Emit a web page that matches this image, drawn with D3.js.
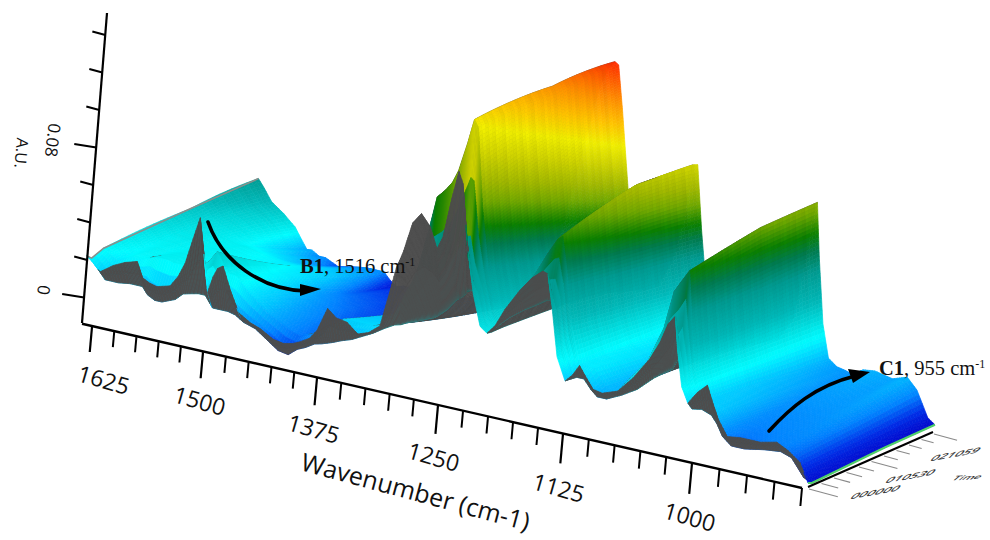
<!DOCTYPE html>
<html><head><meta charset="utf-8">
<script src="https://cdn.jsdelivr.net/npm/d3@7/dist/d3.min.js"></script>
<style>html,body{margin:0;padding:0;background:#fff}svg{display:block}</style>
</head><body><svg id="c" width="990" height="540"></svg>
<script>
// wavenumber grid, cm-1
const wavenumbers=[1630,1616,1601,1588,1574,1568,1560,1552,1537,1528,1520,1511,1503,1499,1495,1489,1484,1478,1470,1461,1448,1437,1423,1412,1402,1393,1383,1375,1364,1355,1344,1333,1322,1310,1300,1293,1286,1276,1267,1258,1251,1245,1236,1229,1225,1221,1215,1208,1201,1193,1183,1168,1156,1145,1140,1136,1131,1123,1116,1109,1102,1096,1087,1072,1057,1041,1031,1023,1016,1014,1010,1004,995,986,981,976,968,956,938,923,913,902,895];
// absorbance (mAU) at successive times
const spectrumStart=[23,16,21,24,26,18,16,15,17,23,31,45,57,38,18,27,32,34,22,11,7,5,1,0,1,3,6,11,24,20,19,14,16,21,40,54,63,80,86,80,69,76,98,113,107,77,50,33,30,35,45,57,65,70,69,52,26,14,18,24,18,13,12,15,24,36,46,57,62,44,25,17,24,29,20,12,4,5,5,7,4,-1,-11];
const spectrumEarly=[21,11,11,12,12,8,6,6,9,13,14,15,15,12,9,9,9,9,8,5,3,-1,-6,-7,-3,-1,2,3,5,7,9,12,15,19,22,23,25,27,29,31,34,37,43,46,49,50,50,33,30,35,40,46,50,54,54,50,26,14,16,16,11,8,8,12,17,25,29,32,40,38,25,13,14,12,8,2,-2,-2,0,1,-1,-10,-12];
const spectrumMid=[25,20,24,24,27,27,27,26,26,26,28,32,38,35,30,27,27,25,20,16,10,7,3,1,3,5,8,11,16,16,16,16,18,25,38,45,55,75,95,100,105,112,128,142,138,95,60,40,31,42,52,64,76,86,88,70,40,20,20,20,14,10,10,20,30,50,71,78,84,60,30,15,14,12,8,3,1,1,2,2,0,-10,-12];
const spectrumLate=[40,32,30,27,26,26,25,24,22,21,20,20,20,19,18,17,16,12,4,2,0,-1,-3,-4,-3,-1,1,3,7,7,7,7,11,20,36,48,63,89,111,127,139,150,163,172,167,130,82,50,36,40,46,61,82,112,114,75,40,23,19,17,13,10,10,16,22,39,65,86,97,65,30,12,10,8,6,4,5,5,5,6,2,-10,-12];
const spectrumEnd=[60,44,37,28,7,8,3,3,-4,-2,0,2,3,3,3,3,3,-4,-11,-8,-8,-8,-8,-8,-8,-6,-4,-2,0,0,0,0,5,15,35,50,70,100,125,150,170,185,199,204,201,167,107,60,40,33,36,55,85,125,125,80,40,25,18,14,12,10,10,12,15,30,60,90,103,70,30,10,6,5,4,5,8,9,7,10,4,-10,-13];
const rowTimes=[0,0.03,0.1,0.6,1];
const rowSteps=[2,3,24,18];
const streaks=[.02,-.05,.10,-.02,.14,.03,-.08,.12,.0,.16,-.04,.06,.2,-.06,.04,.12,-.03,.18,.02,-.07,.1,.22,-.02,.05,.15,-.05,.09,.0,.17,.04];
const wnTicks=[1625,1500,1375,1250,1125,1000];
const auTicks=[0,0.02,0.04,0.06,0.08,0.10,0.12,0.14];
const auLabels={0:"0",0.08:"0.08"};
const timeTicks=[0,0.1,0.2,0.3,0.4,0.5,0.6,0.7,0.8,0.9,1];
const timeLabels=["000000","010530","021059"];
const colorStops=[-14,-6,2,12,23,44,62,74,84,97,108,124,138,155,172,204];
const colorRange=["#0000c8","#0030e8","#0084ff","#00c4ff","#00fbff","#00b8b8","#009a90","#007c50","#0a8000","#70a800","#a0b800","#d0d400","#f0ee00","#ffc000","#ff9000","#ff2800"];

const svg=d3.select("#c");
const xOf=d3.scaleLinear().domain([1634,1625,1500,1375,1250,1125,1000,900,895]).range([82,92,203,317,438,563,692,802,808]);
const yOf=d3.scaleLinear().domain([92,802]).range([327,488]);
const tx=d3.scaleLinear().domain([88,459,545,675,808]).range([172,156,150,142,127]);
const ty=d3.scaleLinear().domain([88,808]).range([-70,-62]);
const kf=d3.scaleLinear().domain([88,137,200,300,470,700,808]).range([.45,.55,.55,.45,.3,.1,.05]);
const hOf=d3.scaleLinear().domain([0,80]).range([27,177]);
const color=d3.scaleLinear().domain(colorStops).range(colorRange).clamp(true);
const project=(w,t,z)=>{const X=xOf(w);return [X+t*tx(X), yOf(X)+t*ty(X)-hOf(z)*(1-t*kf(X))];};

const rows=[spectrumStart,spectrumEarly,spectrumMid,spectrumLate,spectrumEnd];
const cols=[];
for(let i=0;i<wavenumbers.length-1;i++){
  const d=Math.max(Math.abs(xOf(wavenumbers[i+1])-xOf(wavenumbers[i]))/3,...rows.map(r=>Math.abs(r[i+1]-r[i])/2.5));
  const n=Math.max(1,Math.ceil(d));
  for(let j=0;j<n;j++)cols.push([i,j/n]);
}
cols.push([wavenumbers.length-2,1]);
const tSteps=[];
rowSteps.forEach((n,r)=>{for(let j=0;j<n;j++)tSteps.push([r,j/n]);});
tSteps.push([rowSteps.length-1,1]);
const val=(c,s)=>{const [i,f]=c,[r,g]=s;
  const a=rows[r][i]+(rows[r][i+1]-rows[r][i])*f;
  if(g===0)return a;
  const b=rows[r+1][i]+(rows[r+1][i+1]-rows[r+1][i])*f;return a+(b-a)*g;};
const wv=c=>wavenumbers[c[0]]+(wavenumbers[c[0]+1]-wavenumbers[c[0]])*c[1];
const tv=s=>s[1]===0?rowTimes[s[0]]:rowTimes[s[0]]+(rowTimes[s[0]+1]-rowTimes[s[0]])*s[1];
const streakAmt=d3.scaleLinear().domain([20,90]).range([.1,.45]).clamp(true);
const quads=[];
for(let c=0;c<cols.length-1;c++){
  for(let s=tSteps.length-2;s>=0;s--){
    const cn=[[c,s],[c+1,s],[c+1,s+1],[c,s+1]];
    const pts=cn.map(([a,b])=>project(wv(cols[a]),tv(tSteps[b]),val(cols[a],tSteps[b])));
    const z=cn.reduce((m,[a,b])=>m+val(cols[a],tSteps[b]),0)/4;
    const d1=[pts[1][0]-pts[0][0],pts[1][1]-pts[0][1]],d2=[pts[3][0]-pts[0][0],pts[3][1]-pts[0][1]];
    const cross=d1[0]*d2[1]-d1[1]*d2[0];
    const st=streaks[s%streaks.length];
    const fill=cross>0?d3.color("#4c4c4c").darker(st*.6).formatHex():d3.color(color(z)).darker(st*streakAmt(z)).formatHex();
    quads.push({pts,fill});
  }
}
const gS=svg.append("g").attr("style","filter:blur(0.6px)");
const line=d3.line();
gS.selectAll("path").data(quads).join("path")
  .attr("d",d=>line(d.pts)+"Z").attr("fill",d=>d.fill).attr("stroke",d=>d.fill).attr("stroke-width",0.7);
const edge=(w,col,sw)=>gS.append("path").attr("d",line(rowTimes.map((t,r)=>project(w,t,rows[r][wavenumbers.indexOf(w)])))).attr("fill","none").attr("stroke",col).attr("stroke-width",sw);
edge(wavenumbers[0],"#8a8f8c",1.6);
edge(wavenumbers[wavenumbers.length-1],"#4fd06a",2.2);

// wavenumber axis
const ax=svg.append("g").attr("stroke","#000").attr("fill","none").attr("stroke-linecap","butt");
ax.append("line").attr("x1",xOf(1634)).attr("y1",yOf(xOf(1634))-1).attr("x2",xOf(900)).attr("y2",yOf(xOf(900))).attr("stroke-width",2.4);
d3.range(1625,899,-25).forEach(w=>{
  const X=xOf(w),Y=yOf(X),maj=wnTicks.includes(w);
  const len=(maj?25:15)+(X-92)/710*(maj?7:3);
  ax.append("line").attr("x1",X).attr("y1",Y).attr("x2",X-len*0.09).attr("y2",Y+len).attr("stroke-width",maj?2.2:2);
});
const lblX=d3.scaleLinear().domain(wnTicks).range([103,199,313,433,558,689]);
const lblY=d3.scaleLinear().domain(wnTicks).range([382,403,431,459,490,519]);
const F='"Open Sans",sans-serif';
svg.selectAll("text.wn").data(wnTicks).join("text").attr("class","wn")
  .attr("transform",d=>`translate(${lblX(d)},${lblY(d)}) rotate(16)`)
  .attr("text-anchor","middle").attr("dominant-baseline","middle")
  .attr("font-family",F).attr("font-size",23).attr("fill","#111").text(d=>d);
svg.append("text").attr("transform","translate(415,494) rotate(15)").attr("text-anchor","middle").attr("dominant-baseline","middle")
  .attr("font-family",F).attr("font-size",25).attr("fill","#111").text("Wavenumber (cm-1)");

// absorbance axis
const zY=d3.scaleLinear().domain([0,0.08]).range([296,146]);
const zX=y=>82+(323-y)*25/310;
ax.append("line").attr("x1",zX(323)).attr("y1",323).attr("x2",zX(13)).attr("y2",13).attr("stroke-width",2.2);
auTicks.forEach(a=>{
  const y=zY(a),x=zX(y),maj=a in auLabels;
  const len=maj?22:13;
  ax.append("line").attr("x1",x).attr("y1",y+1.5).attr("x2",x-len).attr("y2",y-2).attr("stroke-width",2);
});
auTicks.filter(a=>a in auLabels).forEach(a=>{
  const y=zY(a);
  svg.append("text").attr("transform",`translate(${zX(y)-42-a*37},${y-6}) rotate(97)`).attr("text-anchor","middle").attr("dominant-baseline","middle")
    .attr("font-family",F).attr("font-size",17).attr("fill","#111").text(auLabels[a]);
});
svg.append("text").attr("transform","translate(20,153) rotate(95)").attr("text-anchor","middle").attr("dominant-baseline","middle")
  .attr("font-family",F).attr("font-size",16).attr("fill","#111").text("A.U.");

// time axis
const tAxX=d3.scaleLinear().domain([0,1]).range([808,933]),tAxY=d3.scaleLinear().domain([0,1]).range([487,432]);
ax.append("line").attr("x1",tAxX(0)).attr("y1",tAxY(0)).attr("x2",tAxX(1)).attr("y2",tAxY(1)).attr("stroke-width",2);
timeTicks.forEach((t,i)=>{
  const len=(i%5==0?30:18)-t*6;
  svg.append("line").attr("x1",tAxX(t)+1).attr("y1",tAxY(t)+2).attr("x2",tAxX(t)+1+len*.96).attr("y2",tAxY(t)+2+len*.26).attr("stroke","#8a8a8a").attr("stroke-width",1.1);
});
const tlPos=d3.scaleLinear().domain([0,1,2]);
timeLabels.forEach((s,i)=>{
  const x=tlPos.range([875,910,955])(i),y=tlPos.range([493,477,455])(i);
  svg.append("text").attr("transform",`matrix(1,-0.18,-0.6,0.6,${x},${y})`).attr("text-anchor","middle").attr("dominant-baseline","middle")
    .attr("font-family",F).attr("font-size",14).attr("font-weight",600).attr("fill","#333").text(s);
});
svg.append("text").attr("transform","matrix(0.9,-0.05,-0.6,0.5,967,478)").attr("text-anchor","middle").attr("dominant-baseline","middle")
  .attr("font-family",F).attr("font-size",13).attr("font-weight",600).attr("fill","#333").text("Time");

// annotations
const arrow=(d,head)=>{
  svg.append("path").attr("d",d).attr("fill","none").attr("stroke","#000").attr("stroke-width",3.6).attr("stroke-linecap","round");
  svg.append("polygon").attr("points",head).attr("fill","#000");
};
arrow("M208,222 C222,262 262,290 306,291","300,284 321,289 300,296");
arrow("M769,431 C790,408 815,386 855,376","848,369 870,372 853,383");
const lab=(x,y,b,r)=>{
  const t=svg.append("text").attr("x",x).attr("y",y).attr("font-family",'"Liberation Serif",serif').attr("font-size",20.5).attr("fill","#111");
  t.append("tspan").attr("font-weight","bold").text(b);
  t.append("tspan").text(r);
  t.append("tspan").attr("dy",-7).attr("font-size",12).text("-1");
};
lab(300,273,"B1",", 1516 cm");
lab(879,375,"C1",", 955 cm");
</script></body></html>
